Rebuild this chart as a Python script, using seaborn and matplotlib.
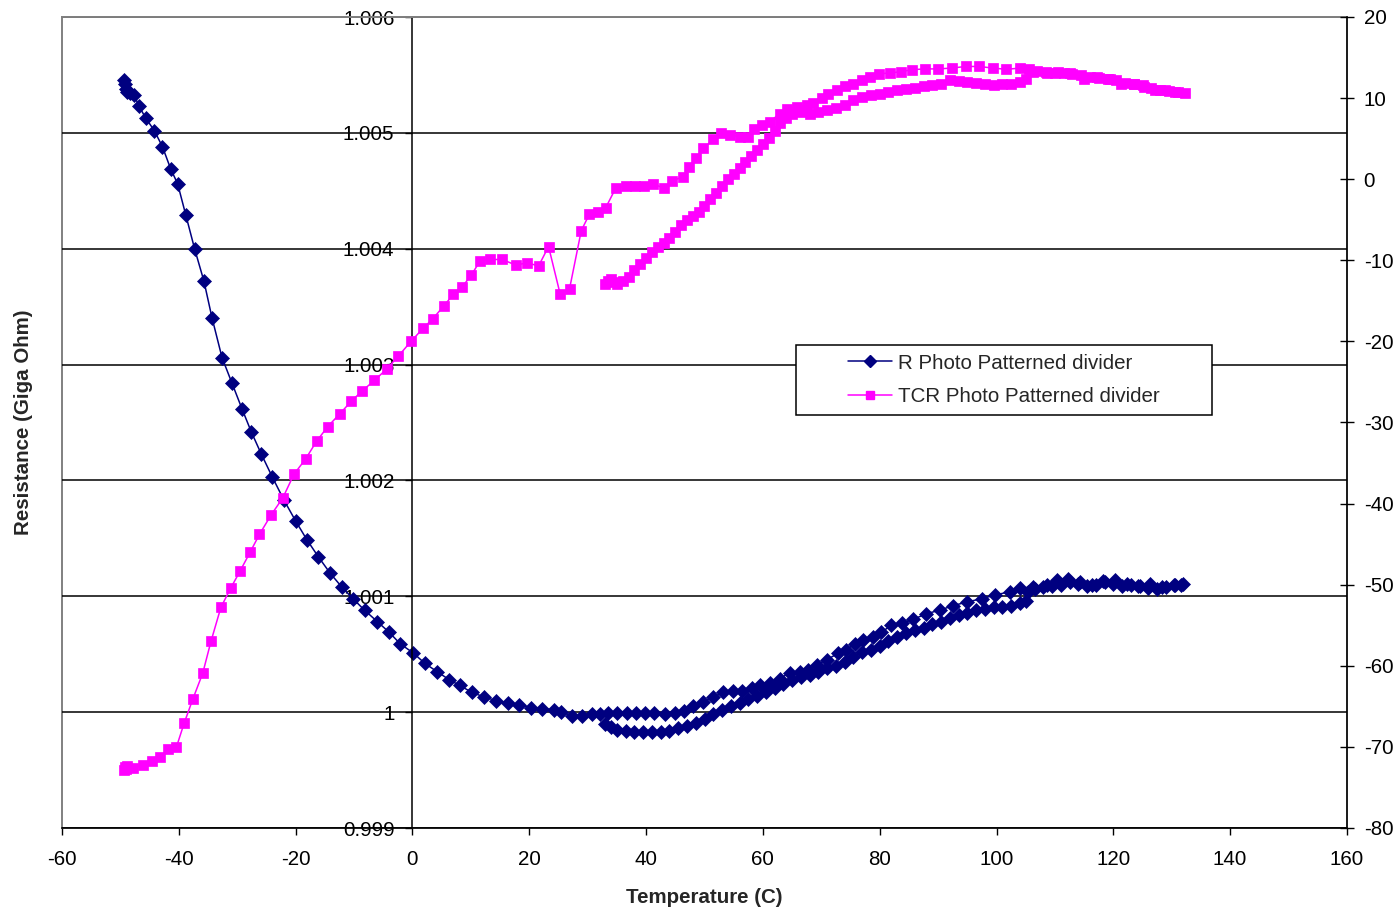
import numpy as np
import pandas as pd
import matplotlib
matplotlib.use("Agg")
import matplotlib.pyplot as plt
from matplotlib.lines import Line2D
from matplotlib.patches import Rectangle
import seaborn as sns

# ---------------- data ----------------
# R Photo Patterned divider  (left axis, Giga Ohm) - heating sweep
r_heat_temp = [-49.3, -49.2, -49.0, -48.8, -48.4, -47.7, -46.8, -45.7, -44.2, -42.8,
               -41.4, -40.2, -38.8, -37.3, -35.7, -34.3, -32.6, -30.9, -29.2, -27.6,
               -25.9, -24.0, -22.0, -20.0, -18.1, -16.1, -14.1, -12.1, -10.2, -8.2,
               -6.0, -4.0, -2.1, 0.15, 2.15, 4.2, 6.3, 8.1, 10.2, 12.3,
               14.3, 16.4, 18.2, 20.3, 22.2, 24.2, 25.5, 27.3, 29.0, 30.7,
               32.1, 33.5, 35.1, 36.7, 38.3, 39.8, 41.4, 43.2, 44.9, 46.5,
               48.1, 49.8, 51.5, 53.2, 54.9, 56.4, 58.1, 59.5, 61.2, 62.9,
               64.6, 66.3, 67.8, 69.2, 70.9, 72.9, 74.3, 75.8, 77.2, 78.9,
               80.3, 82.0, 83.8, 85.7, 88.0, 90.3, 92.6, 94.9, 97.5, 99.7,
               102.3, 104.0, 106.3, 108.6, 110.3, 112.3, 114.3, 116.3, 118.3, 120.3,
               122.3, 124.3, 126.3, 128.3, 130.3, 132.0]
r_heat_res = [1.00546, 1.00542, 1.00538, 1.00535, 1.00534, 1.00533, 1.00523, 1.00513, 1.00502, 1.00488,
              1.00469, 1.00456, 1.00429, 1.00400, 1.00372, 1.00340, 1.00306, 1.00284, 1.00262, 1.00242,
              1.00223, 1.00203, 1.00183, 1.00165, 1.00149, 1.00134, 1.00120, 1.00108, 1.00098, 1.00088,
              1.00078, 1.00069, 1.00059, 1.00051, 1.00042, 1.00035, 1.00028, 1.00023, 1.00017, 1.00013,
              1.00010, 1.00008, 1.00006, 1.00004, 1.00003, 1.00002, 1.00000, 0.99997, 0.99997, 0.99998,
              0.99998, 0.99999, 0.99999, 0.99999, 0.99999, 0.99999, 0.99999, 0.99998, 0.99999, 1.00001,
              1.00005, 1.00009, 1.00013, 1.00017, 1.00018, 1.00018, 1.00021, 1.00023, 1.00025, 1.00029,
              1.00034, 1.00035, 1.00036, 1.00041, 1.00045, 1.00051, 1.00054, 1.00059, 1.00062, 1.00065,
              1.00069, 1.00075, 1.00077, 1.00080, 1.00085, 1.00088, 1.00092, 1.00095, 1.00098, 1.00101,
              1.00104, 1.00107, 1.00108, 1.00110, 1.00114, 1.00115, 1.00112, 1.00110, 1.00113, 1.00114,
              1.00111, 1.00109, 1.00111, 1.00108, 1.00110, 1.00111]

# R - cooling sweep (132 C back to 33 C)
r_cool_temp = [131.5, 130.5, 129, 127.5, 126, 124.5, 123, 121.5, 120, 118.5,
               117, 115.5, 114, 112.5, 111, 109.5, 108, 106.5, 105.3, 105,
               104, 102.5, 101, 99.5, 98, 96.5, 95, 93.5, 92, 90.5,
               89, 87.5, 86, 84.5, 83, 81.5, 80, 78.5, 77, 75.5,
               74, 72.5, 71, 69.5, 68, 66.5, 65, 63.5, 62, 60.5,
               59, 57.5, 56, 54.5, 53, 51.5, 50, 48.5, 47, 45.5,
               44, 42.5, 41, 39.5, 38, 36.5, 35, 34, 33]
r_cool_res = [1.00110, 1.00110, 1.00108, 1.00106, 1.00107, 1.00109, 1.00110, 1.00109, 1.00111, 1.00112,
              1.00110, 1.00109, 1.00111, 1.00112, 1.00110, 1.00109, 1.00108, 1.00106, 1.00104, 1.00096,
              1.00094, 1.00092, 1.00091, 1.00091, 1.00089, 1.00088, 1.00086, 1.00084, 1.00081, 1.00078,
              1.00076, 1.00073, 1.00071, 1.00068, 1.00065, 1.00061, 1.00057, 1.00054, 1.00052, 1.00048,
              1.00043, 1.00040, 1.00038, 1.00035, 1.00032, 1.00030, 1.00028, 1.00024, 1.00021, 1.00017,
              1.00014, 1.00011, 1.00008, 1.00005, 1.00002, 0.99998, 0.99994, 0.99991, 0.99988, 0.99986,
              0.99984, 0.99983, 0.99983, 0.99983, 0.99983, 0.99984, 0.99985, 0.99987, 0.99990]

# TCR Photo Patterned divider (right axis) - heating sweep
tcr_heat_temp = [-49.3, -49.2, -49.0, -48.8, -47.8, -46.1, -44.6, -43.2, -41.8, -40.4,
                 -39.1, -37.6, -35.9, -34.5, -32.8, -31.1, -29.5, -27.8, -26.2, -24.2,
                 -22.2, -20.3, -18.3, -16.4, -14.5, -12.4, -10.5, -8.6, -6.5, -4.4,
                 -2.4, -0.25, 1.8, 3.5, 5.4, 7.0, 8.5, 10.1, 11.6, 13.2,
                 15.4, 17.7, 19.6, 21.6, 23.3, 25.3, 26.9, 28.9, 30.3, 31.7,
                 33.1, 34.8, 36.5, 38.1, 39.7, 41.2, 43.1, 44.5, 46.3, 47.4,
                 48.6, 49.8, 51.5, 52.9, 54.4, 56.1, 57.5, 58.4, 59.8, 61.2,
                 62.9, 64.1, 65.8, 67.5, 68.6, 70.1, 71.2, 72.6, 74.1, 75.5,
                 76.9, 78.3, 79.9, 81.8, 83.6, 85.5, 87.7, 90.0, 92.3, 94.7,
                 97.0, 99.4, 101.7, 104.0, 106.3, 108.6, 110.6, 112.6, 114.9, 117.2,
                 119.5, 121.3, 123.6, 125.3, 127.1, 128.8, 130.5, 132.2]
tcr_heat_val = [-72.85, -72.5, -72.7, -72.4, -72.6, -72.2, -71.8, -71.3, -70.3, -70.0,
                -67.1, -64.1, -60.9, -57.0, -52.8, -50.4, -48.3, -46.0, -43.8, -41.4,
                -39.3, -36.4, -34.5, -32.3, -30.5, -28.9, -27.4, -26.1, -24.8, -23.4,
                -21.8, -20.0, -18.4, -17.2, -15.6, -14.2, -13.3, -11.8, -10.05, -9.9,
                -9.9, -10.6, -10.3, -10.7, -8.3, -14.2, -13.5, -6.35, -4.3, -4.1,
                -3.5, -1.1, -0.84, -0.84, -0.84, -0.6, -1.1, -0.2, 0.3, 1.5,
                2.6, 3.8, 4.9, 5.65, 5.45, 5.25, 5.25, 6.2, 6.7, 7.1,
                8.1, 8.7, 8.9, 9.15, 9.4, 10.0, 10.5, 11.0, 11.5, 11.8,
                12.2, 12.6, 13.0, 13.1, 13.25, 13.5, 13.6, 13.6, 13.7, 13.9,
                13.9, 13.7, 13.55, 13.7, 13.25, 13.05, 13.25, 13.05, 12.4, 12.6,
                12.4, 11.8, 11.8, 11.4, 11.0, 11.0, 10.7, 10.6]

# TCR - cooling sweep
tcr_cool_temp = [131, 129.5, 128, 126.5, 125, 123.5, 122, 120.5, 119, 117.5,
                 116, 114.5, 113, 111.5, 110, 108.5, 107, 105.5, 105, 104,
                 102.5, 101, 99.5, 98, 96.5, 95, 93.5, 92, 90.5, 89,
                 87.5, 86, 84.5, 83, 81.5, 80, 78.5, 77, 75.5, 74,
                 72.5, 71, 69.5, 68, 66.5, 65, 64, 63, 62, 61,
                 60, 59, 58, 57, 56, 55, 54, 53, 52, 51,
                 50, 49, 48, 47, 46, 45, 44, 43, 42, 41,
                 40, 39, 38, 37, 36, 35, 34.5, 34, 33.5, 33]
tcr_cool_val = [10.7, 10.9, 11.0, 11.3, 11.6, 11.8, 11.9, 12.2, 12.4, 12.5,
                12.6, 12.8, 13.0, 13.1, 13.1, 13.2, 13.4, 13.6, 12.3, 12.0,
                11.8, 11.7, 11.6, 11.8, 11.9, 12.0, 12.1, 12.2, 11.7, 11.6,
                11.5, 11.2, 11.1, 11.0, 10.7, 10.5, 10.4, 10.1, 9.8, 9.2,
                8.8, 8.5, 8.3, 8.0, 8.3, 8.0, 7.6, 6.9, 5.9, 5.1,
                4.3, 3.6, 2.8, 2.1, 1.4, 0.7, 0.0, -0.8, -1.7, -2.5,
                -3.3, -4.0, -4.5, -5.0, -5.6, -6.5, -7.3, -7.9, -8.4, -9.0,
                -9.7, -10.4, -11.2, -12.0, -12.6, -12.9, -12.7, -12.3, -12.5, -12.9]

series_names = ["R Photo Patterned divider", "TCR Photo Patterned divider"]
x_ticks = [-60, -40, -20, 0, 20, 40, 60, 80, 100, 120, 140, 160]
left_ticks = [0.999, 1.000, 1.001, 1.002, 1.003, 1.004, 1.005, 1.006]
left_tick_labels = ["0.999", "1", "1.001", "1.002", "1.003", "1.004", "1.005", "1.006"]
right_ticks = [-80, -70, -60, -50, -40, -30, -20, -10, 0, 10, 20]

# ---------------- style ----------------
sns.set_style("white")
plt.rcParams["font.family"] = ["Liberation Sans", "DejaVu Sans"]

NAVY = "#000080"
MAGENTA = "#FF00FF"
FS = 14.8
D_MS = 7.2
S_MS = 7.0

r_df = pd.DataFrame({"T": r_heat_temp + r_cool_temp, "R": r_heat_res + r_cool_res})
tcr_df = pd.DataFrame({"T": tcr_heat_temp + tcr_cool_temp, "V": tcr_heat_val + tcr_cool_val})

fig = plt.figure(figsize=(13.97, 9.11), dpi=100)
W, H = 1397.0, 911.0
ax = fig.add_axes([62 / W, 1 - 828 / H, 1285 / W, 811 / H])
ax2 = ax.twinx()

sns.lineplot(data=r_df, x="T", y="R", ax=ax, sort=False, estimator=None,
             color=NAVY, linewidth=1.1, marker="D", markersize=D_MS,
             markeredgecolor=NAVY, markeredgewidth=0.5, legend=False)
sns.lineplot(data=tcr_df, x="T", y="V", ax=ax2, sort=False, estimator=None,
             color=MAGENTA, linewidth=1.1, marker="s", markersize=S_MS,
             markeredgecolor=MAGENTA, markeredgewidth=0.5, legend=False)

# axes limits and ticks
ax.set_xlim(-60, 160)
ax.set_ylim(0.999, 1.006)
ax2.set_ylim(-80, 20)
ax.set_xticks(x_ticks)
ax.set_xticklabels([str(t) for t in x_ticks])
ax.set_yticks(left_ticks)
ax.set_yticklabels(left_tick_labels)
ax2.set_yticks(right_ticks)
ax2.set_yticklabels([str(t) for t in right_ticks])

ax.yaxis.grid(True, color="black", linewidth=1.1)
ax.xaxis.grid(False)
ax.set_axisbelow(True)

# spines: left axis crosses at x = 0
ax.spines["left"].set_position(("data", 0))
for s in ["left", "bottom"]:
    ax.spines[s].set_color("black")
    ax.spines[s].set_linewidth(1.1)
ax.spines["top"].set_color("#808080")
ax.spines["top"].set_linewidth(1.4)
ax.spines["top"].set_zorder(3)
ax.spines["right"].set_visible(False)
ax.patch.set_edgecolor("#808080")
ax.patch.set_linewidth(1.4)
for s in ["left", "top", "bottom"]:
    ax2.spines[s].set_visible(False)
ax2.spines["right"].set_color("black")
ax2.spines["right"].set_linewidth(1.1)

ax.tick_params(axis="x", direction="out", length=5, width=1, pad=11,
               labelsize=FS, colors="black", bottom=True)
ax.tick_params(axis="y", direction="out", length=5, width=1, pad=8,
               labelsize=FS, colors="black", left=True)
ax2.tick_params(axis="y", direction="inout", length=10, width=1, pad=7,
                labelsize=FS, colors="black", right=True)

ax.set_xlabel("Temperature (C)", fontsize=FS, fontweight="bold")
ax.set_ylabel("Resistance (Giga Ohm)", fontsize=FS, fontweight="bold")
ax2.set_ylabel("")
ax.xaxis.set_label_coords(0.5, -0.074)
ax.yaxis.set_label_coords(-0.0225, 0.5)

# legend (box drawn separately for exact size)
lx0, ly0, lx1, ly1 = 796, 345, 1212, 415
box = Rectangle((lx0 / W, 1 - ly1 / H), (lx1 - lx0) / W, (ly1 - ly0) / H,
                transform=fig.transFigure, facecolor="white", edgecolor="black",
                linewidth=1.1, zorder=4)
fig.add_artist(box)
handles = [Line2D([], [], color=NAVY, lw=1.1, marker="D", markersize=D_MS * 0.85, markeredgecolor=NAVY),
           Line2D([], [], color=MAGENTA, lw=1.1, marker="s", markersize=S_MS * 0.85, markeredgecolor=MAGENTA)]
leg = fig.legend(handles, series_names, loc="center",
                 bbox_to_anchor=(lx0 / W, 1 - ly1 / H, (lx1 - lx0) / W, (ly1 - ly0) / H),
                 bbox_transform=fig.transFigure, frameon=False, fontsize=FS,
                 handlelength=2.1, handletextpad=0.3, labelspacing=0.72, borderpad=0.1)
leg.set_zorder(5)

fig.savefig("out.png", dpi=100, facecolor="white")
